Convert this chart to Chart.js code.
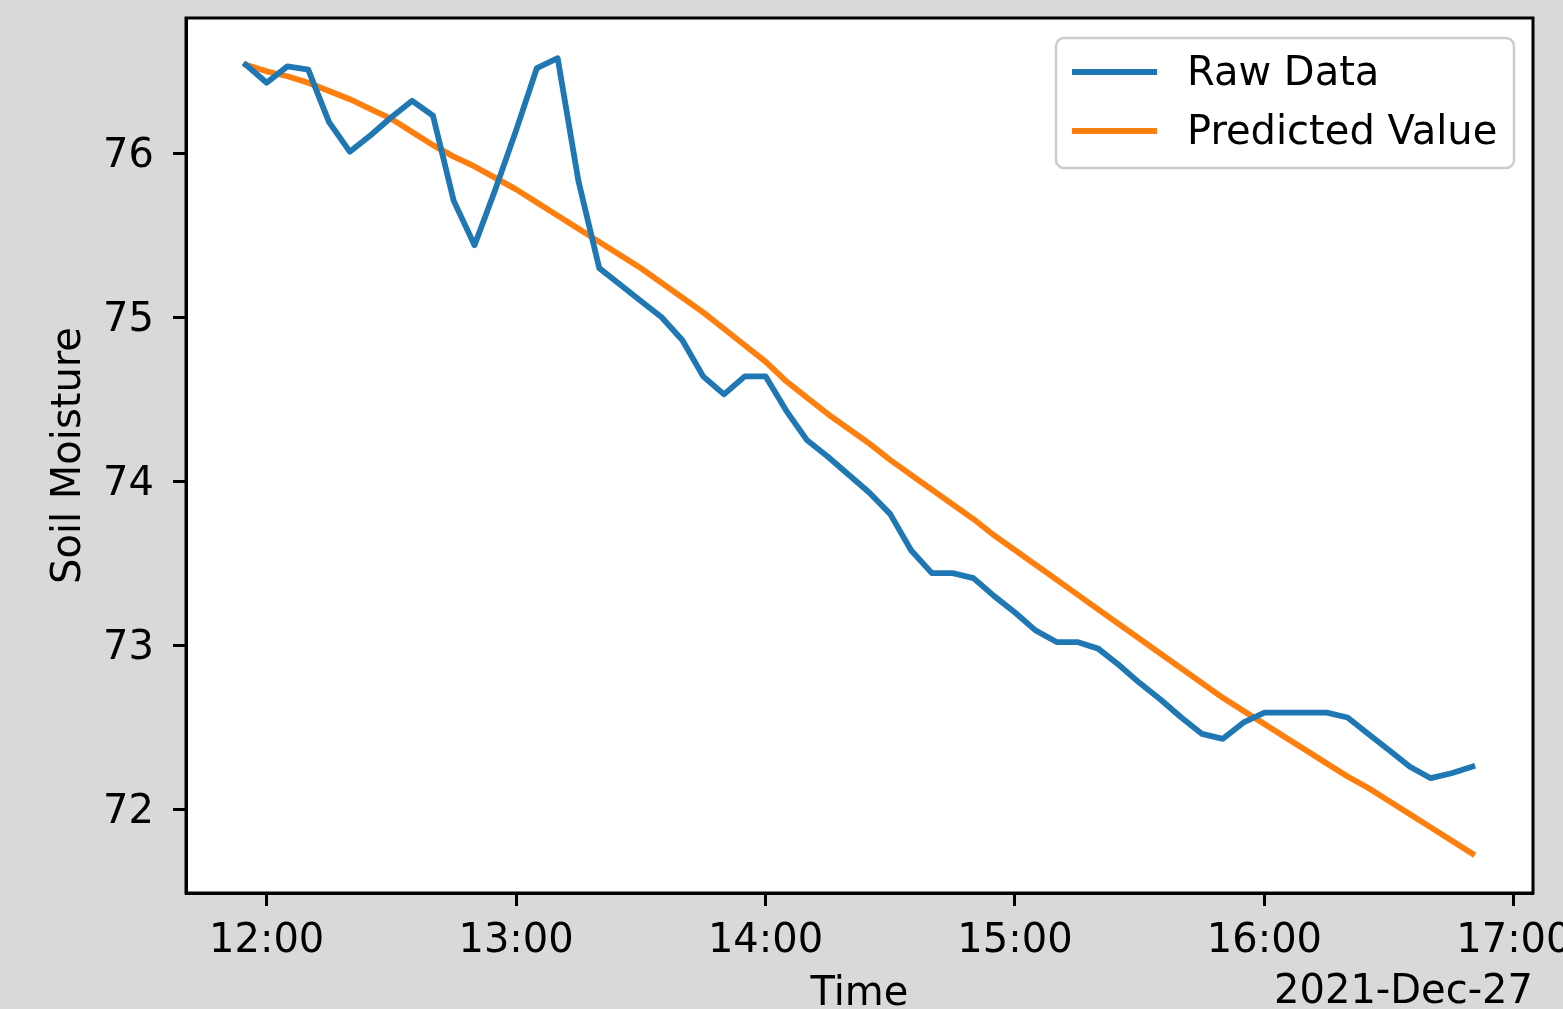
<!DOCTYPE html>
<html>
<head>
<meta charset="utf-8">
<script src="https://cdn.jsdelivr.net/npm/chart.js@4.4.0/dist/chart.umd.min.js"></script>
<style>
  html, body { margin: 0; padding: 0; background: #d9d9d9; }
  #wrap { position: relative; width: 1563px; height: 1009px; }
</style>
</head>
<body>
<div id="wrap"><canvas id="c" width="1563" height="1009"></canvas></div>
<script>
// ---- data ----
const timeLabels = [
  "11:55","12:00","12:05","12:10","12:15","12:20","12:25","12:30","12:35","12:40",
  "12:45","12:50","12:55","13:00","13:05","13:10","13:15","13:20","13:25","13:30",
  "13:35","13:40","13:45","13:50","13:55","14:00","14:05","14:10","14:15","14:20",
  "14:25","14:30","14:35","14:40","14:45","14:50","14:55","15:00","15:05","15:10",
  "15:15","15:20","15:25","15:30","15:35","15:40","15:45","15:50","15:55","16:00",
  "16:05","16:10","16:15","16:20","16:25","16:30","16:35","16:40","16:45","16:50"
];
const rawData = [
  76.54, 76.43, 76.53, 76.51, 76.19, 76.01, 76.11, 76.22, 76.32, 76.23,
  75.71, 75.44, 75.78, 76.14, 76.52, 76.58, 75.83, 75.30, 75.20, 75.10,
  75.00, 74.86, 74.64, 74.53, 74.64, 74.64, 74.43, 74.25, 74.15, 74.04,
  73.93, 73.80, 73.58, 73.44, 73.44, 73.41, 73.30, 73.20, 73.09, 73.02,
  73.02, 72.98, 72.88, 72.77, 72.67, 72.56, 72.46, 72.43, 72.53, 72.59,
  72.59, 72.59, 72.59, 72.56, 72.46, 72.36, 72.26, 72.19, 72.22, 72.26
];
const predictedValue = [
  76.54, 76.50, 76.47, 76.43, 76.38, 76.33, 76.27, 76.21, 76.13, 76.05,
  75.98, 75.92, 75.85, 75.78, 75.70, 75.62, 75.54, 75.46, 75.38, 75.30,
  75.21, 75.12, 75.03, 74.93, 74.83, 74.73, 74.61, 74.51, 74.41, 74.32,
  74.23, 74.13, 74.04, 73.95, 73.86, 73.77, 73.67, 73.58, 73.49, 73.40,
  73.31, 73.22, 73.13, 73.04, 72.95, 72.86, 72.77, 72.68, 72.60, 72.52,
  72.44, 72.36, 72.28, 72.20, 72.13, 72.05, 71.97, 71.89, 71.81, 71.73
];
const seriesNames = ["Raw Data", "Predicted Value"];
const seriesColors = ["#1f77b4", "#ff7f0e"];
const xTickLabels = ["12:00", "13:00", "14:00", "15:00", "16:00", "17:00"];
const yTickValues = [72, 73, 74, 75, 76];
const xTitle = "Time";
const yTitle = "Soil Moisture";
const dateLabel = "2021-Dec-27";

// ---- helpers ----
const toMin = s => { const p = s.split(":"); return (+p[0]) * 60 + (+p[1]); };
const fmt = v => { const h = Math.floor(v / 60), m = Math.round(v - h * 60); return h + ":" + String(m).padStart(2, "0"); };

const FONT = "'DejaVu Sans', 'Liberation Sans', sans-serif";
const FS = 40;
Chart.defaults.font.family = FONT;
Chart.defaults.font.size = FS;
Chart.defaults.color = "#000";

const toPoints = arr => timeLabels.map((t, i) => ({ x: toMin(t), y: arr[i] }));

const plotBg = {
  id: "plotBg",
  beforeDraw(chart) {
    const { ctx, chartArea: a } = chart;
    ctx.save();
    ctx.fillStyle = "#ffffff";
    ctx.fillRect(a.left, a.top, a.right - a.left, a.bottom - a.top);
    ctx.restore();
  },
  afterDatasetsDraw(chart) {
    const { ctx, chartArea: a } = chart;
    ctx.save();
    ctx.strokeStyle = "#000";
    ctx.lineWidth = 3;
    ctx.strokeRect(a.left, a.top, a.right - a.left, a.bottom - a.top);
    ctx.restore();
  },
  afterDraw(chart) {
    const { ctx, chartArea: a } = chart;
    ctx.save();
    // date offset label
    ctx.font = FS + "px " + FONT;
    ctx.fillStyle = "#000";
    ctx.textAlign = "right";
    ctx.textBaseline = "middle";
    ctx.fillText(dateLabel, a.right, 992.5);

    // legend
    const lx = a.right - 477, ly = a.top + 20, lw = 458, lh = 130, r = 8;
    ctx.beginPath();
    ctx.moveTo(lx + r, ly);
    ctx.arcTo(lx + lw, ly, lx + lw, ly + lh, r);
    ctx.arcTo(lx + lw, ly + lh, lx, ly + lh, r);
    ctx.arcTo(lx, ly + lh, lx, ly, r);
    ctx.arcTo(lx, ly, lx + lw, ly, r);
    ctx.closePath();
    ctx.fillStyle = "rgba(255,255,255,0.8)";
    ctx.fill();
    ctx.strokeStyle = "#cccccc";
    ctx.lineWidth = 2.5;
    ctx.stroke();
    chart.data.datasets.forEach((ds, i) => {
      const y = ly + 34 + i * 59;
      ctx.beginPath();
      ctx.moveTo(lx + 16, y);
      ctx.lineTo(lx + 101, y);
      ctx.strokeStyle = ds.borderColor;
      ctx.lineWidth = 5.8;
      ctx.lineCap = "butt";
      ctx.stroke();
      ctx.fillStyle = "#000";
      ctx.textAlign = "left";
      ctx.textBaseline = "middle";
      ctx.fillText(ds.label, lx + 131, y + 3);
    });
    ctx.restore();
  }
};

new Chart(document.getElementById("c"), {
  type: "line",
  data: {
    datasets: [
      { label: seriesNames[0], data: toPoints(rawData), borderColor: seriesColors[0] },
      { label: seriesNames[1], data: toPoints(predictedValue), borderColor: seriesColors[1] }
    ]
  },
  options: {
    responsive: false,
    animation: false,
    devicePixelRatio: 1,
    elements: {
      line: { borderWidth: 5.8, tension: 0, borderJoinStyle: "round", borderCapStyle: "square", fill: false },
      point: { radius: 0, hoverRadius: 0 }
    },
    layout: { autoPadding: false, padding: { left: 0, right: 30, top: 18, bottom: 0 } },
    plugins: { legend: { display: false }, tooltip: { enabled: false } },
    scales: {
      x: {
        type: "linear",
        position: "bottom",
        bounds: "data",
        min: toMin("11:40") + 0.6,
        max: toMin("17:04") + 0.6,
        afterBuildTicks: s => { s.ticks = xTickLabels.map(l => ({ value: toMin(l) })); },
        afterFit: s => { s.height = 116; s.paddingLeft = 0; s.paddingRight = 0; },
        ticks: { callback: v => fmt(v), padding: 12, maxRotation: 0, autoSkip: false, color: "#000", font: { size: FS } },
        grid: { drawOnChartArea: false, drawTicks: true, tickLength: 13, tickWidth: 3, tickColor: "#000" },
        border: { display: true, color: "#000", width: 3 },
        title: { display: true, text: xTitle, color: "#000", font: { size: FS, lineHeight: 0.7 }, padding: { top: 0, bottom: 0 } }
      },
      y: {
        type: "linear",
        position: "left",
        bounds: "data",
        min: 71.49,
        max: 76.825,
        afterBuildTicks: s => { s.ticks = yTickValues.map(v => ({ value: v })); },
        afterFit: s => { s.width = 186; s.paddingTop = 0; s.paddingBottom = 0; },
        ticks: { callback: v => String(v), padding: 19, labelOffset: 3, autoSkip: false, color: "#000", font: { size: FS } },
        grid: { drawOnChartArea: false, drawTicks: true, tickLength: 13, tickWidth: 3, tickColor: "#000" },
        border: { display: true, color: "#000", width: 3 },
        title: { display: true, text: yTitle, color: "#000", font: { size: FS, lineHeight: 0.7 }, padding: { top: 56, bottom: 0 } }
      }
    }
  },
  plugins: [plotBg]
});
</script>
</body>
</html>
